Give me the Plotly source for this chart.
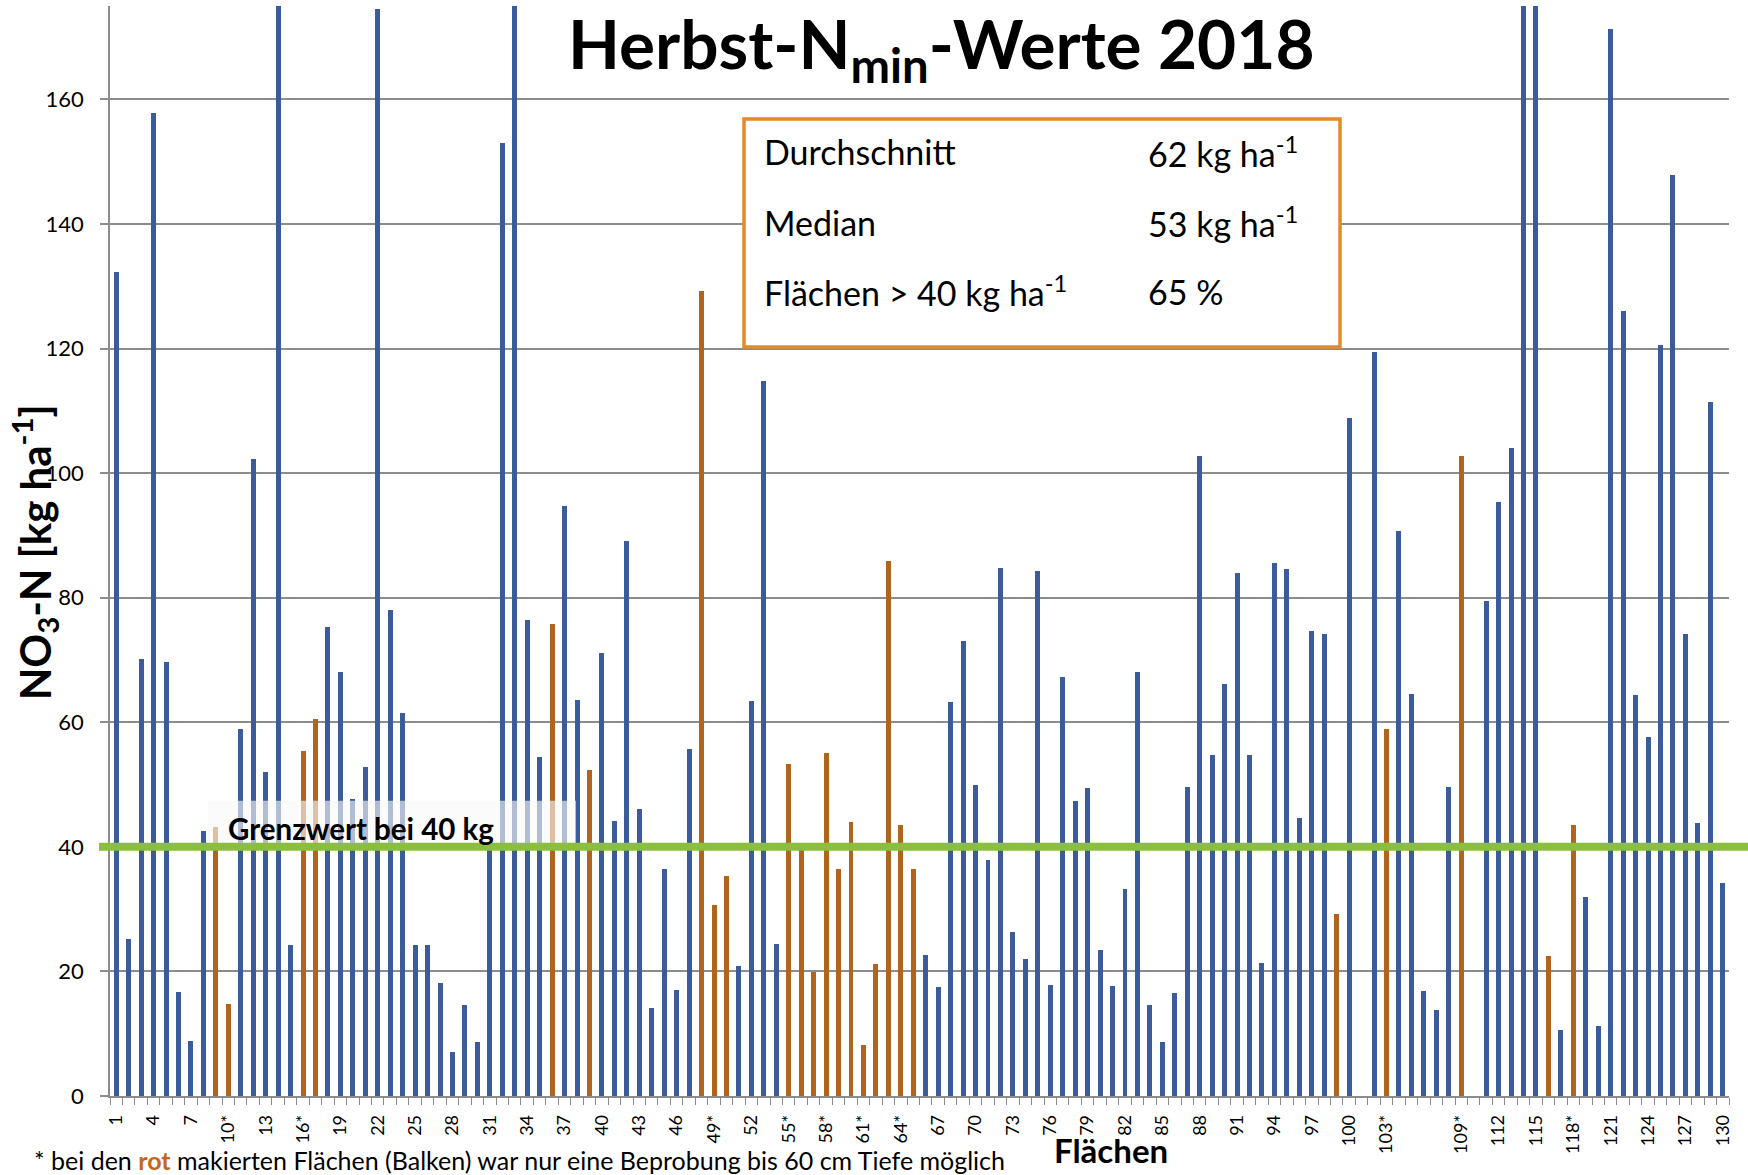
import plotly.graph_objects as go

# ---------------- data ----------------
flaechen = list(range(1, 131))
no3n = [
    132.3, 25.2, 70.1, 157.9, 69.6, 16.7, 8.8, 42.5, 43.2, 14.8,
    59.0, 102.3, 52.0, 205.0, 24.2, 55.4, 60.5, 75.3, 68.0, 47.7,
    52.8, 174.5, 78.1, 61.5, 24.2, 24.3, 18.1, 7.1, 14.6, 8.6,
    39.8, 153.0, 230.0, 76.5, 54.5, 75.8, 94.8, 63.5, 52.3, 71.1,
    44.1, 89.1, 46.0, 14.2, 36.5, 17.0, 55.7, 129.3, 30.7, 35.3,
    20.9, 63.4, 114.8, 24.4, 53.3, 40.0, 19.9, 55.1, 36.5, 44.0,
    8.2, 21.2, 85.9, 43.5, 36.5, 22.6, 17.5, 63.3, 73.0, 49.9,
    37.9, 84.8, 26.3, 22.0, 84.3, 17.8, 67.2, 47.4, 49.4, 23.5,
    17.6, 33.3, 68.0, 14.6, 8.6, 16.6, 49.6, 102.8, 54.7, 66.2,
    83.9, 54.7, 21.3, 85.5, 84.6, 44.6, 74.7, 74.2, 29.2, 108.8,
    None, 119.5, 59.0, 90.7, 64.5, 16.9, 13.8, 49.6, 102.7, None,
    79.5, 95.3, 104.0, 190.0, 215.0, 22.5, 10.6, 43.5, 31.9, 11.2,
    171.3, 126.1, 64.4, 57.7, 120.6, 147.8, 74.2, 43.8, 111.5, 34.2,
]
# fields sampled only down to 60 cm (red bars)
rot_flaechen = [9, 10, 16, 17, 36, 39, 48, 49, 50, 55, 56, 57, 58, 59, 60,
                61, 62, 63, 64, 65, 99, 103, 109, 116, 118]
y_ticks = [0, 20, 40, 60, 80, 100, 120, 140, 160]
grenzwert = 40
stats_labels = ["Durchschnitt", "Median", "Flächen &gt; 40 kg ha<sup>-1</sup>"]
stats_values = ["62 kg ha<sup>-1</sup>", "53 kg ha<sup>-1</sup>", "65 %"]

labels = [f"{n}*" if n in rot_flaechen else str(n) for n in flaechen]
shown_ticks = flaechen[::3]
shown_text = [" " if n == 106 else labels[n - 1] for n in shown_ticks]

blue_y = [v if n not in rot_flaechen else None for n, v in zip(flaechen, no3n)]
red_y = [v if n in rot_flaechen else None for n, v in zip(flaechen, no3n)]

BLUE = "#3A5C9C"
ORANGE = "#B3641C"
GRID = "#8c8c8c"
FONT = "Lato, 'Open Sans', sans-serif"

W, H = 1748, 1175
ML, MR, MT, MB = 110, 19, 6, 79
PW, PH = W - ML - MR, H - MT - MB


def px_x(x):
    return (x - ML) / PW


def px_y(y):
    return (H - MB - y) / PH


fig = go.Figure()
fig.add_trace(go.Bar(x=flaechen, y=blue_y, marker_color=BLUE, width=0.4,
                     marker_line_width=0, showlegend=False))
fig.add_trace(go.Bar(x=flaechen, y=red_y, marker_color=ORANGE, width=0.4,
                     marker_line_width=0, showlegend=False))

# translucent box behind the limit label
fig.add_shape(type="rect", xref="paper", yref="y", x0=px_x(208), x1=px_x(576),
              y0=grenzwert, y1=47.4, fillcolor="rgba(248,248,248,0.62)",
              line_width=0, layer="above")
# limit line
fig.add_shape(type="line", xref="paper", yref="y", x0=px_x(99), x1=px_x(W),
              y0=grenzwert, y1=grenzwert, line=dict(color="#8BBE3C", width=8),
              layer="above")
# stats box
fig.add_shape(type="rect", xref="paper", yref="paper", x0=px_x(744), x1=px_x(1340),
              y0=px_y(347), y1=px_y(119), fillcolor="white",
              line=dict(color="#E5892A", width=3.5), layer="above")

ann = []
ann.append(dict(text="<b>Herbst-N<sub>min</sub>-Werte 2018</b>", x=px_x(941), y=px_y(48),
                xanchor="center", yanchor="middle", font=dict(size=67.5)))
ann.append(dict(text="<b>NO<sub>3</sub>-N [kg ha<sup>-1</sup>]</b>", x=px_x(34), y=px_y(552),
                xanchor="center", yanchor="middle", textangle=-90, font=dict(size=42)))
ann.append(dict(text="<b>Flächen</b>", x=px_x(1111), y=px_y(1128),
                xanchor="center", yanchor="top", font=dict(size=33)))
ann.append(dict(text="* bei den <b><span style='color:#C4661C'>rot</span></b> makierten Flächen (Balken) "
                     "war nur eine Beprobung bis 60 cm Tiefe möglich",
                x=px_x(32), y=px_y(1143), xanchor="left", yanchor="top", font=dict(size=25)))
ann.append(dict(text="<b>Grenzwert bei 40 kg</b>", x=px_x(226), y=px_y(848),
                xanchor="left", yanchor="bottom", font=dict(size=29.5)))
for i, (lab, val) in enumerate(zip(stats_labels, stats_values)):
    yy = [152, 222, 291][i]
    ann.append(dict(text=lab, x=px_x(762), y=px_y(yy), xanchor="left", yanchor="middle",
                    font=dict(size=34)))
    ann.append(dict(text=val, x=px_x(1146), y=px_y(yy), xanchor="left", yanchor="middle",
                    font=dict(size=34)))
for a in ann:
    a.update(xref="paper", yref="paper", showarrow=False)

fig.update_layout(
    width=W, height=H, autosize=False,
    margin=dict(l=ML, r=MR, t=MT, b=MB, pad=0),
    paper_bgcolor="white", plot_bgcolor="white",
    font=dict(family=FONT, color="black"),
    barmode="overlay", bargap=0,
    annotations=ann,
    xaxis=dict(range=[0.5, 130.5], tickmode="array", tickvals=shown_ticks, ticktext=shown_text,
               tickangle=-90, tickfont=dict(size=18), ticks="", showgrid=False, zeroline=False,
               showline=True, linecolor=GRID, linewidth=1.5, ticklabelstandoff=10,
               minor=dict(ticks="outside", ticklen=7, tick0=0.5, dtick=1, tickcolor=GRID,
                          tickwidth=1, showgrid=False)),
    yaxis=dict(range=[0, 175], tickmode="array", tickvals=y_ticks, showgrid=True,
               gridcolor=GRID, gridwidth=1.5, zeroline=False, showline=True,
               linecolor=GRID, linewidth=1.5, ticks="outside", ticklen=8, tickcolor=GRID,
               tickwidth=1.5, tickfont=dict(size=22), ticklabelstandoff=12),
)

fig.write_html("out.html", config={"displayModeBar": False},
               post_script="document.body.style.margin='0';document.body.style.overflow='hidden';")
